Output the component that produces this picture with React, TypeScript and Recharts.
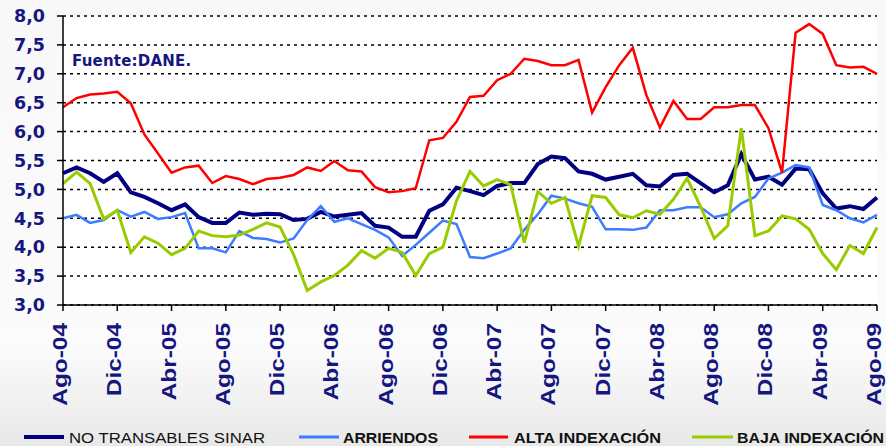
import { LineChart, Line, XAxis, YAxis, CartesianGrid, Legend } from 'recharts';

// IPC no transables y subgrupos, variación anual (%), ago-04 a ago-09
const MESES = [
  'Ago-04', 'Sep-04', 'Oct-04', 'Nov-04', 'Dic-04',
  'Ene-05', 'Feb-05', 'Mar-05', 'Abr-05', 'May-05', 'Jun-05', 'Jul-05', 'Ago-05', 'Sep-05', 'Oct-05', 'Nov-05', 'Dic-05',
  'Ene-06', 'Feb-06', 'Mar-06', 'Abr-06', 'May-06', 'Jun-06', 'Jul-06', 'Ago-06', 'Sep-06', 'Oct-06', 'Nov-06', 'Dic-06',
  'Ene-07', 'Feb-07', 'Mar-07', 'Abr-07', 'May-07', 'Jun-07', 'Jul-07', 'Ago-07', 'Sep-07', 'Oct-07', 'Nov-07', 'Dic-07',
  'Ene-08', 'Feb-08', 'Mar-08', 'Abr-08', 'May-08', 'Jun-08', 'Jul-08', 'Ago-08', 'Sep-08', 'Oct-08', 'Nov-08', 'Dic-08',
  'Ene-09', 'Feb-09', 'Mar-09', 'Abr-09', 'May-09', 'Jun-09', 'Jul-09', 'Ago-09',
];

const NO_TRANSABLES = [
  5.28, 5.38, 5.28, 5.13, 5.28, 4.95, 4.87, 4.76, 4.64, 4.74,
  4.52, 4.42, 4.42, 4.6, 4.56, 4.58, 4.57, 4.47, 4.49, 4.61,
  4.53, 4.56, 4.59, 4.37, 4.34, 4.18, 4.18, 4.63, 4.74, 5.03,
  4.97, 4.9, 5.06, 5.11, 5.11, 5.44, 5.57, 5.54, 5.31, 5.27,
  5.17, 5.22, 5.27, 5.07, 5.05, 5.25, 5.27, 5.11, 4.95, 5.07,
  5.61, 5.17, 5.22, 5.08, 5.36, 5.35, 4.93, 4.67, 4.71, 4.66,
  4.86,
];

const ARRIENDOS = [
  4.5, 4.56, 4.42, 4.47, 4.64, 4.53, 4.61, 4.49, 4.52, 4.59,
  3.98, 3.98, 3.91, 4.28, 4.16, 4.14, 4.08, 4.15, 4.47, 4.71,
  4.44, 4.5, 4.4, 4.3, 4.17, 3.85, 4.04, 4.25, 4.46, 4.4,
  3.83, 3.81, 3.89, 3.98, 4.3, 4.57, 4.89, 4.84, 4.76, 4.7,
  4.31, 4.31, 4.3, 4.34, 4.64, 4.64, 4.69, 4.69, 4.52, 4.57,
  4.76, 4.87, 5.19, 5.29, 5.42, 5.38, 4.73, 4.64, 4.5, 4.43,
  4.56,
];

const ALTA_INDEXACION = [
  6.42, 6.58, 6.64, 6.66, 6.69, 6.49, 5.95, 5.62, 5.29, 5.38,
  5.41, 5.11, 5.23, 5.18, 5.09, 5.18, 5.2, 5.25, 5.38, 5.32,
  5.49, 5.33, 5.31, 5.04, 4.95, 4.97, 5.02, 5.85, 5.89, 6.17,
  6.6, 6.62, 6.89, 7.0, 7.26, 7.22, 7.15, 7.15, 7.24, 6.33,
  6.77, 7.15, 7.45, 6.63, 6.07, 6.53, 6.22, 6.22, 6.42, 6.42,
  6.46, 6.46, 6.06, 5.29, 7.71, 7.86, 7.69, 7.15, 7.11, 7.12,
  7.0,
];

const BAJA_INDEXACION = [
  5.1, 5.3, 5.1, 4.49, 4.64, 3.91, 4.18, 4.07, 3.87, 3.98,
  4.28, 4.2, 4.18, 4.21, 4.31, 4.42, 4.35, 3.87, 3.25, 3.4,
  3.51, 3.69, 3.94, 3.81, 3.98, 3.91, 3.51, 3.89, 4.0, 4.8,
  5.31, 5.06, 5.17, 5.08, 4.08, 4.96, 4.76, 4.86, 4.02, 4.89,
  4.86, 4.56, 4.51, 4.63, 4.57, 4.83, 5.19, 4.7, 4.15, 4.37,
  6.06, 4.2, 4.28, 4.54, 4.49, 4.31, 3.89, 3.61, 4.03, 3.89,
  4.34,
];

const Y_TICKS = [3, 3.5, 4, 4.5, 5, 5.5, 6, 6.5, 7, 7.5, 8];

const SERIES = [
  { key: 'nt', name: 'NO TRANSABLES SINAR', color: '#000080', width: 4 },
  { key: 'ar', name: 'ARRIENDOS', color: '#3d7bff', width: 2.5 },
  { key: 'alta', name: 'ALTA INDEXACIÓN', color: '#ff0000', width: 2.5 },
  { key: 'baja', name: 'BAJA INDEXACIÓN', color: '#99cc00', width: 3 },
];

const data = MESES.map((mes, i) => ({
  mes,
  nt: NO_TRANSABLES[i],
  ar: ARRIENDOS[i],
  alta: ALTA_INDEXACION[i],
  baja: BAJA_INDEXACION[i],
}));

const NAVY = '#161680';

function MesTick({ x, y, payload }: any) {
  return (
    <g transform={`translate(${x},${y + 12}) rotate(-90) scale(1.22,1)`}>
      <text
        textAnchor="end"
        dy="0.2em"
        fill={NAVY}
        fontSize={20}
        fontWeight="bold"
        fontFamily="'Liberation Sans', Arial, sans-serif"
      >
        {payload.value}
      </text>
    </g>
  );
}

// posiciones de la leyenda
const LEYENDA = [
  { x1: 24, x2: 64, tx: 69, tl: 196, bold: false },
  { x1: 299, x2: 339, tx: 343, tl: 95, bold: true },
  { x1: 469, x2: 508, tx: 514, tl: 147, bold: true },
  { x1: 692, x2: 733, tx: 737, tl: 147, bold: true },
];

function Leyenda() {
  return (
    <div style={{ height: 20 }}>
      <svg width={886} height={20} style={{ display: 'block' }}>
        {SERIES.map((s, i) => (
          <g key={s.key}>
            <line x1={LEYENDA[i].x1} x2={LEYENDA[i].x2} y1={11} y2={11} stroke={s.color} strokeWidth={i === 0 ? 4 : 3} />
            <text
              x={LEYENDA[i].tx}
              y={16.5}
              fontSize={15}
              fontWeight={LEYENDA[i].bold ? 'bold' : 'normal'}
              fontFamily="'Liberation Sans', Arial, sans-serif"
              fill="#111"
              textLength={LEYENDA[i].tl}
              lengthAdjust="spacingAndGlyphs"
            >
              {s.name}
            </text>
          </g>
        ))}
      </svg>
    </div>
  );
}

export default function App() {
  return (
    <div
      style={{
        position: 'absolute',
        left: 0,
        top: 0,
        width: 886,
        height: 446,
        background: 'linear-gradient(to bottom, #f8f8f8 0%, #fbfbfb 78%, #e8e8e8 100%)',
      }}
    >
      <LineChart width={886} height={446} data={data} margin={{ top: 16, right: 9, bottom: 0, left: 8 }}>
        <CartesianGrid
          vertical={false}
          horizontalValues={Y_TICKS}
          stroke="#000"
          strokeWidth={1.5}
          strokeDasharray="3 4"
          fill="#ffffff"
          fillOpacity={1}
        />
        <XAxis
          dataKey="mes"
          interval={3}
          height={121}
          tickSize={6}
          tickMargin={0}
          axisLine={{ stroke: '#000', strokeWidth: 1.5 }}
          tickLine={{ stroke: '#000', strokeWidth: 1.5 }}
          tick={<MesTick />}
        />
        <XAxis xAxisId="top" dataKey="mes" orientation="top" height={0} tick={false} tickLine={false} axisLine={{ stroke: '#000', strokeWidth: 1 }} />
        <YAxis
          domain={[3, 8]}
          ticks={Y_TICKS}
          width={55}
          tickSize={6}
          tickMargin={12}
          axisLine={{ stroke: '#000', strokeWidth: 1.5 }}
          tickLine={{ stroke: '#000', strokeWidth: 1.5 }}
          tickFormatter={(v: number) => v.toFixed(1).replace('.', ',')}
          tick={{ fill: NAVY, fontSize: 17.5, fontWeight: 'bold', fontFamily: "'DejaVu Sans', sans-serif" }}
        />
        <YAxis yAxisId="right" orientation="right" width={0} tick={false} tickLine={false} axisLine={{ stroke: '#000', strokeWidth: 1 }} />
        <Legend verticalAlign="bottom" align="left" wrapperStyle={{ left: 0, width: 886, height: 20 }} content={() => <Leyenda />} />
        {SERIES.map((s) => (
          <Line
            key={s.key}
            type="linear"
            dataKey={s.key}
            name={s.name}
            stroke={s.color}
            strokeWidth={s.width}
            dot={false}
            activeDot={false}
            isAnimationActive={false}
          />
        ))}
      </LineChart>
      <div
        style={{
          position: 'absolute',
          left: 72,
          top: 52,
          color: NAVY,
          fontFamily: "'DejaVu Sans', sans-serif",
          fontWeight: 'bold',
          fontSize: 15,
          letterSpacing: 0.2,
        }}
      >
        Fuente:DANE.
      </div>
    </div>
  );
}
